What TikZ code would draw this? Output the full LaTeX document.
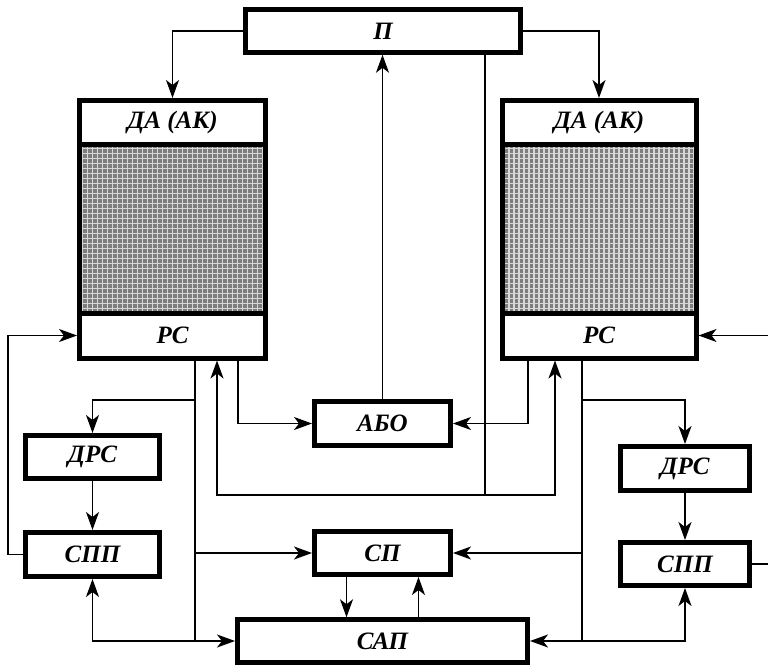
\documentclass[tikz,border=0pt]{standalone}
\usepackage{fontspec}
\setmainfont{Liberation Serif}
\definecolor{cellgray}{RGB}{125,125,125}
\definecolor{gridline}{RGB}{215,215,215}
\usetikzlibrary{arrows.meta,positioning}

\begin{document}
\begin{tikzpicture}[x=1pt, y=-1pt, line width=1.6pt,
  >={Stealth[length=18pt,width=13pt,inset=5pt]},
  every node/.style={font=\fontsize{25}{28}\selectfont\bfseries\itshape},
  bx/.style={draw, line width=5pt, fill=white, inner sep=0pt},
  hatchbox/.style={draw, line width=5pt, fill=cellgray, inner sep=0pt,
    path picture={\draw[gridline, line width=1.2pt, step=5pt]
      (path picture bounding box.south west) grid (path picture bounding box.north east);}}]
\useasboundingbox (0,0) rectangle (768,667);
\node[bx, minimum width=275, minimum height=42.5] (P) at (383,31) {П};
\node[bx, minimum width=186, minimum height=44] (DAL) at (172.5,122.5) {ДА (АК)};
\node[hatchbox, minimum width=186, minimum height=168.5] (HL) at (172.5,228.75) {};
\node[bx, minimum width=186, minimum height=45] (RSL) at (172.5,335.5) {РС};
\node[bx, minimum width=194, minimum height=44] (DAR) at (599,122.5) {ДА (АК)};
\node[hatchbox, minimum width=194, minimum height=168.5] (HR) at (599,228.75) {};
\node[bx, minimum width=194, minimum height=45] (RSR) at (599,335.5) {РС};
\node[bx, minimum width=136, minimum height=44] (ABO) at (382.5,423.5) {АБО};
\node[bx, minimum width=134, minimum height=43] (DRSL) at (92.5,457) {ДРС};
\node[bx, minimum width=134, minimum height=44] (SPPL) at (92.5,554.5) {СПП};
\node[bx, minimum width=136, minimum height=43] (SP) at (382.5,553) {СП};
\node[bx, minimum width=290, minimum height=42.5] (SAP) at (382.5,641) {САП};
\node[bx, minimum width=129, minimum height=44] (DRSR) at (685,468.5) {ДРС};
\node[bx, minimum width=129, minimum height=43] (SPPR) at (685,564) {СПП};
\coordinate (bus) at (485,495);
\coordinate (tapL) at (195,400);
\coordinate (tapR) at (582,400);
\draw[->] (P.west) -| (DAL.north);
\draw[->] (P.east) -| (DAR.north);
\draw[->] (ABO.north) -- (ABO.north |- P.south);
\draw (bus |- P.south) -- (bus);
\draw[->] (bus) -| ([xshift=44.5]RSL.south);
\draw[->] (bus) -| ([xshift=-44]RSR.south);
\draw[->] ([xshift=65.5]RSL.south) |- (ABO.west);
\draw[->] ([xshift=-71]RSR.south) |- (ABO.east);
\draw[->] (tapL |- RSL.south) |- (SAP.west);
\draw[->] (tapL) -| (DRSL.north);
\draw[->] (DRSL) -- (SPPL);
\draw[->] (SPPL.west) -- ++(-15,0) |- (RSL.west);
\draw[->] (tapL |- SP.west) -- (SP.west);
\draw[->] (tapL |- SAP.west) -| (SPPL.south);
\draw[->] ([xshift=-36]SP.south) -- ([xshift=-36]SP.south |- SAP.north);
\draw[->] ([xshift=36]SAP.north) -- ([xshift=36]SAP.north |- SP.south);
\draw[->] (tapR |- RSR.south) |- (SAP.east);
\draw[->] (tapR) -| (DRSR.north);
\draw[->] (DRSR) -- (SPPR);
\draw[->] (tapR |- SP.east) -- (SP.east);
\draw[->] (tapR |- SAP.east) -| (SPPR.south);
\draw[->] (SPPR.east) -- ++(30,0) |- (RSR.east);
\end{tikzpicture}
\end{document}
